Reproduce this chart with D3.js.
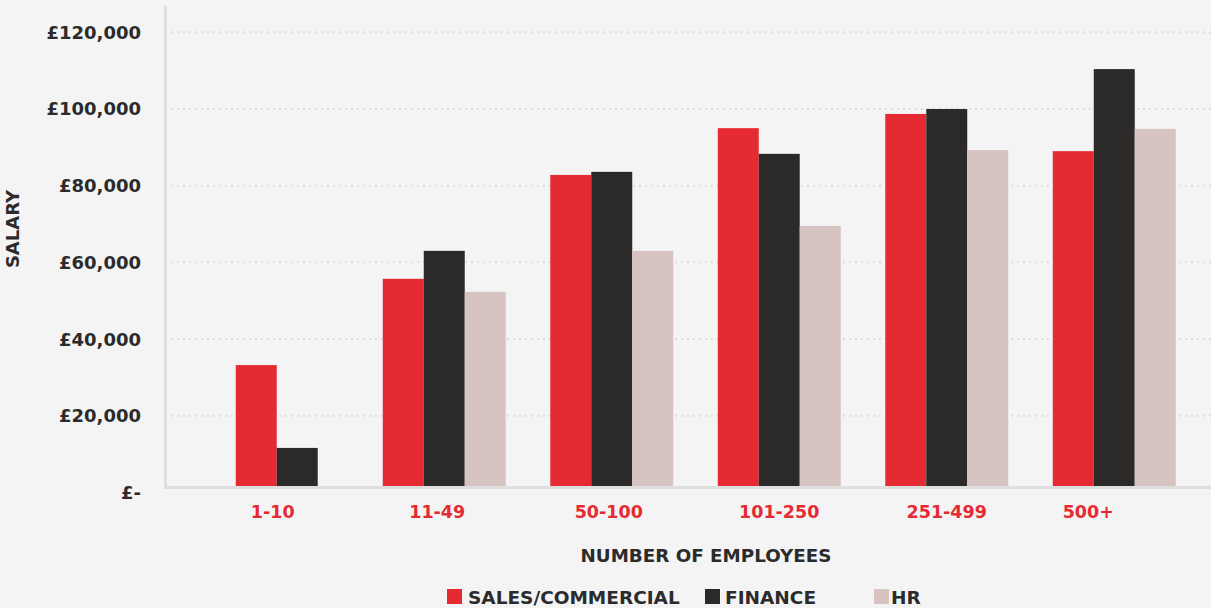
<!DOCTYPE html>
<html>
<head>
<meta charset="utf-8">
<script src="https://cdn.jsdelivr.net/npm/d3@7"></script>
<style>
  html, body { margin: 0; padding: 0; background: #f4f4f4; }
  svg { display: block; }
  text { font-family: "DejaVu Sans", sans-serif; font-weight: bold; }
</style>
</head>
<body>
<svg id="chart" width="1211" height="608"></svg>
<script>
const categories = ["1-10", "11-49", "50-100", "101-250", "251-499", "500+"];
const seriesNames = ["SALES/COMMERCIAL", "FINANCE", "HR"];
const sales   = [33200, 55700, 82800, 95000, 98700, 89000];
const finance = [11600, 63000, 83600, 88300, 100000, 110400];
const hr      = [null, 52300, 63000, 69500, 89300, 94800];
const yTicks = [0, 20000, 40000, 60000, 80000, 100000, 120000];
const yTickLabels = ["£-", "£20,000", "£40,000", "£60,000", "£80,000", "£100,000", "£120,000"];
const colors = ["#e52a33", "#2c2a29", "#d7c3c1"];

const seriesValues = [sales, finance, hr];

const svg = d3.select("#chart");
const W = 1211, H = 608;
svg.append("rect").attr("width", W).attr("height", H).attr("fill", "#f4f4f4");

const plotLeft = 165.5, plotBottom = 487, plotTop = 6;

const y = d3.scaleLinear().domain([0, 120000]).range([492.4, 32.3]);
const x = d3.scaleBand().domain(categories).range([193, 1198]).paddingInner(0.266).paddingOuter(0.133);
const xs = d3.scaleBand().domain(seriesNames).range([0, x.bandwidth()]);

// gridlines
svg.append("g").selectAll("line")
  .data(yTicks.filter(d => d > 0))
  .join("line")
  .attr("x1", 171).attr("x2", W)
  .attr("y1", d => y(d)).attr("y2", d => y(d))
  .attr("stroke", "#dcdcdc").attr("stroke-width", 2)
  .attr("stroke-dasharray", "2 4");

// bars (present bars centered within each category)
const barsG = svg.append("g");
categories.forEach((cat, ci) => {
  const present = seriesNames.map((s, si) => ({ s, si, v: seriesValues[si][ci] })).filter(d => d.v != null);
  const bw = xs.bandwidth();
  const groupW = bw * present.length;
  const start = x(cat) + (x.bandwidth() - groupW) / 2;
  present.forEach((d, k) => {
    barsG.append("rect")
      .attr("x", start + k * bw)
      .attr("width", bw)
      .attr("y", y(d.v))
      .attr("height", plotBottom - y(d.v))
      .attr("fill", colors[d.si]);
  });
});

// axes lines
svg.append("line").attr("x1", plotLeft).attr("x2", plotLeft).attr("y1", plotTop).attr("y2", plotBottom + 1.5)
  .attr("stroke", "#dfdfdf").attr("stroke-width", 3);
svg.append("line").attr("x1", plotLeft - 1.5).attr("x2", W).attr("y1", plotBottom + 0.5).attr("y2", plotBottom + 0.5)
  .attr("stroke", "#dfdfdf").attr("stroke-width", 3);

// y tick labels
svg.append("g").selectAll("text")
  .data(yTicks)
  .join("text")
  .attr("x", 141)
  .attr("y", d => y(d))
  .attr("dy", "0.36em")
  .attr("text-anchor", "end")
  .attr("font-size", 18)
  .attr("fill", "#2b2b2b")
  .text((d, i) => yTickLabels[i]);

// x labels (small manual nudges as in the original layout)
const labelNudge = [-4, -7, -3, 0, 0, -26];
svg.append("g").selectAll("text")
  .data(categories)
  .join("text")
  .attr("x", (d, i) => x(d) + x.bandwidth() / 2 + labelNudge[i])
  .attr("y", 512)
  .attr("dy", "0.36em")
  .attr("text-anchor", "middle")
  .attr("font-size", 17.5)
  .attr("fill", "#e52a33")
  .text(d => d);

// axis titles
svg.append("text").attr("x", 706).attr("y", 555).attr("dy", "0.36em")
  .attr("text-anchor", "middle").attr("font-size", 18.3).attr("fill", "#2b2b2b")
  .text("NUMBER OF EMPLOYEES");
svg.append("text").attr("transform", "translate(12.5,229) rotate(-90)").attr("dy", "0.36em")
  .attr("text-anchor", "middle").attr("font-size", 18).attr("fill", "#2b2b2b")
  .text("SALARY");

// legend
const legendX = [447, 705, 874];
const legendTextGap = [21, 20, 17];
const lg = svg.append("g");
seriesNames.forEach((s, i) => {
  lg.append("rect").attr("x", legendX[i]).attr("y", 589).attr("width", 15).attr("height", 15).attr("fill", colors[i]);
  lg.append("text").attr("x", legendX[i] + legendTextGap[i]).attr("y", 597).attr("dy", "0.36em")
    .attr("font-size", 18.5).attr("fill", "#2b2b2b").text(s);
});
</script>
</body>
</html>
